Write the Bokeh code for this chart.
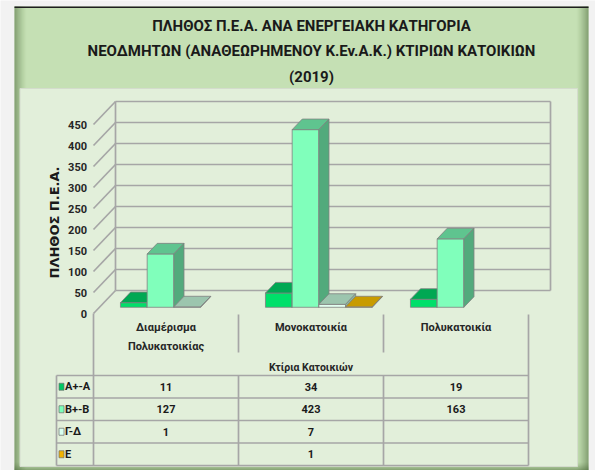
import numpy as np
from bokeh.plotting import figure
from bokeh.models import Range1d, ColumnDataSource
from bokeh.core.properties import value
from bokeh.embed import file_html
from bokeh.resources import INLINE

# ---------------- data ----------------
title_lines = ["ΠΛΗΘΟΣ Π.Ε.Α. ΑΝΑ ΕΝΕΡΓΕΙΑΚΗ ΚΑΤΗΓΟΡΙΑ",
               "ΝΕΟΔΜΗΤΩΝ (ΑΝΑΘΕΩΡΗΜΕΝΟΥ Κ.Εν.Α.Κ.) ΚΤΙΡΙΩΝ ΚΑΤΟΙΚΙΩΝ",
               "(2019)"]
categories = ["Διαμέρισμα\nΠολυκατοικίας", "Μονοκατοικία", "Πολυκατοικία"]
x_title = "Κτίρια Κατοικιών"
y_title = "ΠΛΗΘΟΣ Π.Ε.Α."
series_names = ["Α+-Α", "Β+-Β", "Γ-Δ", "Ε"]
a_plus_a = [11, 34, 19]
b_plus_b = [127, 423, 163]
gamma_delta = [1, 7, None]
epsilon = [None, 1, None]
y_ticks = [0, 50, 100, 150, 200, 250, 300, 350, 400, 450]

series_values = [a_plus_a, b_plus_b, gamma_delta, epsilon]
front_colors = ["#00e06a", "#80ffbb", "#e2fff0", "#ffc000"]
top_colors = ["#00a853", "#5fc48f", "#9cc5ae", "#c89b00"]
side_colors = ["#00a04e", "#52aa7c", "#8ab8a0", "#b08800"]
key_colors = ["#00c862", "#7affb8", "#d8fff0", "#f2b200"]

# ---------------- layout (page px -> data) ----------------
X0, CW = 93.0, 145.0      # page x of category 0 left edge, px per category
Y0, K = 313.0, 0.42       # page y of value 0, px per unit
W, H = 595, 470
def PX(x):
    return (x - X0) / CW
def PY(y):
    return (Y0 - y) / K

DX, DY = 22.0 / CW, 23.0 / K          # depth of the floor
F0, F1 = 0.27, 0.73                   # bar depth span
BW = 26.7 / CW
OFF = 0.145

FONT = "Roboto"
GRID = "#a6a6a6"

p = figure(width=W, height=H, output_backend="svg", toolbar_location=None,
           x_range=Range1d(PX(0), PX(W)), y_range=Range1d(PY(H), PY(0)),
           x_axis_type=None, y_axis_type=None, min_border=0,
           min_border_left=0, min_border_right=0, min_border_top=0, min_border_bottom=0)
p.outline_line_color = None
p.background_fill_color = "#f2f2f2"
p.border_fill_color = "#f2f2f2"
p.xgrid.visible = False
p.ygrid.visible = False

# frame
p.quad(left=[PX(14)], right=[PX(588)], top=[PY(6)], bottom=[PY(470)],
       fill_color="#c5e0b4", line_color=None)
# shadows
for k in range(12):
    a = 0.55 * (1 - k / 12) ** 1.5
    p.quad(left=[PX(14 + k)], right=[PX(15 + k)], top=[PY(6)], bottom=[PY(470)],
           fill_color="#3e5e2e", fill_alpha=a, line_color=None)
    p.quad(left=[PX(587 - k)], right=[PX(588 - k)], top=[PY(6)], bottom=[PY(470)],
           fill_color="#3e5e2e", fill_alpha=a, line_color=None)
for k in range(8):
    a = 0.55 * (1 - k / 8) ** 1.5
    p.quad(left=[PX(14)], right=[PX(588)], top=[PY(469 - k)], bottom=[PY(470 - k)],
           fill_color="#3e5e2e", fill_alpha=a, line_color=None)
p.quad(left=[PX(14)], right=[PX(588)], top=[PY(6)], bottom=[PY(7.5)],
       fill_color="#1e1e1e", line_color=None)
# inner area
p.quad(left=[PX(19.5)], right=[PX(577)], top=[PY(88)], bottom=[PY(466)],
       fill_color="#e2efda", line_color="#d4dccd", line_width=1)

# title
p.text(x=[PX(311)] * 3, y=[PY(25), PY(50), PY(76)], text=title_lines,
       text_font=value(FONT), text_font_style="bold", text_font_size="15px",
       text_color="#1a1a1a", text_align="center", text_baseline="middle")

# walls & gridlines
tk = np.array(y_ticks, dtype=float)
p.segment(x0=[DX] * len(tk), x1=[3 + DX] * len(tk), y0=tk + DY, y1=tk + DY,
          line_color=GRID, line_width=1.7)
p.segment(x0=[0] * len(tk), x1=[DX] * len(tk), y0=tk, y1=tk + DY,
          line_color=GRID, line_width=1.7)
p.segment(x0=[DX, 3 + DX], x1=[DX, 3 + DX], y0=[DY, DY], y1=[tk[-1] + DY] * 2,
          line_color=GRID, line_width=1.7)

# bars (3D)
xs, ys, fills = [], [], []
ddx, ddy = (F1 - F0) * DX, (F1 - F0) * DY
for i in range(len(categories)):
    for s, vals in enumerate(series_values):
        v = vals[i]
        if v is None:
            continue
        x0 = i + OFF + s * BW + F0 * DX
        x1 = x0 + BW
        b = F0 * DY
        t = v + F0 * DY
        xs += [[x0, x1, x1, x0], [x0, x1, x1 + ddx, x0 + ddx], [x1, x1 + ddx, x1 + ddx, x1]]
        ys += [[b, b, t, t], [t, t, t + ddy, t + ddy], [b, b + ddy, t + ddy, t]]
        fills += [front_colors[s], top_colors[s], side_colors[s]]
p.patches(xs="xs", ys="ys", fill_color="fills", line_color="#808080", line_width=0.8,
          source=ColumnDataSource(dict(xs=xs, ys=ys, fills=fills)))

# y tick labels
p.text(x=[PX(86.5)] * len(tk), y=tk, text=[str(int(t)) for t in tk],
       text_font=value(FONT), text_font_style="bold", text_font_size="11px",
       text_color="#262626", text_align="right", text_baseline="middle")
# y title
p.text(x=[PX(54)], y=[PY(222)], text=[y_title], angle=np.pi / 2,
       text_font=value("DejaVu Sans"), text_font_style="bold", text_font_size="13px",
       text_color="#1a1a1a", text_align="center", text_baseline="middle")

# category separators and table lines
ncat = len(categories)
TOP_T, ROW_H = 375.0, 22.5
nrow = len(series_names)
BOT_T = TOP_T + nrow * ROW_H
p.segment(x0=[0, ncat], x1=[0, ncat], y0=[PY(313), PY(314)], y1=[PY(BOT_T)] * 2,
          line_color=GRID, line_width=1.7)
inner = list(range(1, ncat))
p.segment(x0=inner, x1=inner, y0=[PY(314)] * len(inner), y1=[PY(352)] * len(inner),
          line_color=GRID, line_width=1.7)
p.segment(x0=inner, x1=inner, y0=[PY(TOP_T)] * len(inner), y1=[PY(BOT_T)] * len(inner),
          line_color=GRID, line_width=1.7)
p.segment(x0=[PX(56)], x1=[PX(56)], y0=[PY(TOP_T)], y1=[PY(BOT_T)],
          line_color=GRID, line_width=1.7)
rows_y = [PY(TOP_T + r * ROW_H) for r in range(nrow + 1)]
p.segment(x0=[PX(56)] * (nrow + 1), x1=[ncat] * (nrow + 1), y0=rows_y, y1=rows_y,
          line_color=GRID, line_width=1.7)

# category labels
p.text(x=[i + 0.5 for i in range(ncat)], y=[PY(320.5)] * ncat, text=categories,
       text_font=value(FONT), text_font_style="bold", text_font_size="11px",
       text_color="#262626", text_align="center", text_baseline="top",
       text_line_height=1.45)
p.text(x=[ncat / 2], y=[PY(366.5)], text=[x_title],
       text_font=value(FONT), text_font_style="bold", text_font_size="10.5px",
       text_color="#262626", text_align="center", text_baseline="middle")

# table rows
row_c = [TOP_T + (r + 0.5) * ROW_H for r in range(nrow)]
p.quad(left=[PX(58.5)] * nrow, right=[PX(63.5)] * nrow,
       top=[PY(c - 3.5) for c in row_c], bottom=[PY(c + 3.5) for c in row_c],
       fill_color=key_colors, line_color="#6f6f6f", line_width=0.7)
p.text(x=[PX(64.5)] * nrow, y=[PY(c) for c in row_c], text=series_names,
       text_font=value(FONT), text_font_style="bold", text_font_size="11px",
       text_color="#1a1a1a", text_align="left", text_baseline="middle")
cx, cy, ct = [], [], []
for r, vals in enumerate(series_values):
    for i, v in enumerate(vals):
        if v is None:
            continue
        cx.append(i + 0.5)
        cy.append(PY(row_c[r]))
        ct.append(str(v))
p.text(x=cx, y=cy, text=ct,
       text_font=value(FONT), text_font_style="bold", text_font_size="11px",
       text_color="#1a1a1a", text_align="center", text_baseline="middle")

open("out.html", "w").write(file_html(p, INLINE))
